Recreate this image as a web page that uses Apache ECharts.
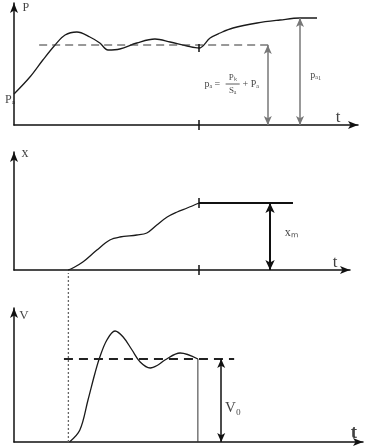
<!DOCTYPE html>
<html><head><meta charset="utf-8">
<script src="https://cdn.jsdelivr.net/npm/echarts@6/dist/echarts.min.js"></script>
<style>html,body{margin:0;padding:0;background:#fff}#c{width:366px;height:448px}</style>
</head><body><div id="c"></div>
<script>
// ---- Panel 1: pressure P(t)
const pressureT = [0, 0.43, 0.78, 1.11, 1.38, 1.70, 2.05, 2.32, 2.54, 2.86, 3.32, 3.81, 4.22, 4.68, 5.0, 5.30, 5.57, 5.92, 6.57, 7.19, 7.73, 8.19];
const pressureP = [3.1, 4.8, 6.5, 8.0, 9.0, 9.3, 8.8, 8.2, 7.5, 7.6, 8.2, 8.6, 8.3, 7.9, 7.7, 8.7, 9.2, 9.7, 10.2, 10.5, 10.7, 10.7];
const pressureSetLevel = 8.0;
const pressureSetRange = [0.68, 6.92];
const pressureFinal = 10.7;
const pressureArrowT = [6.86, 7.73];

// ---- Panel 2: displacement x(t)
const dispT = [1.46, 1.59, 1.86, 2.24, 2.59, 2.86, 3.32, 3.59, 3.86, 4.14, 4.41, 4.68, 5.0];
const dispX = [0, 0.2, 0.8, 2.0, 3.0, 3.3, 3.5, 3.7, 4.5, 5.3, 5.8, 6.2, 6.7];
const dispHoldRange = [5.0, 7.54];
const dispMax = 6.7;
const dispArrowT = 6.92;

// ---- Panel 3: velocity V(t)
const velT = [1.5, 1.78, 2.0, 2.19, 2.32, 2.51, 2.73, 2.95, 3.19, 3.41, 3.68, 3.89, 4.08, 4.49, 4.97];
const velV = [0, 1.2, 4.2, 6.9, 8.5, 10.2, 11.1, 10.5, 9.2, 8.0, 7.4, 7.7, 8.2, 8.9, 8.3];
const velSteady = 8.3;
const velSteadyRange = [1.35, 5.95];
const velArrowT = 5.6;
const startT = 1.47;
const tickT = 5;

const zip = (a, b) => a.map((v, i) => [v, b[i]]);
const FONT = 'Liberation Serif';

function axisPair(gi, xmax, ymax) {
  const line = {show: true, onZero: false, symbol: ['none', 'arrow'], symbolSize: [6, 10], lineStyle: {color: '#111', width: 1.5}};
  return {
    x: {type: 'value', gridIndex: gi, min: 0, max: xmax, axisLine: line, axisTick: {show: false}, axisLabel: {show: false}, splitLine: {show: false}},
    y: {type: 'value', gridIndex: gi, min: 0, max: ymax, axisLine: line, axisTick: {show: false}, axisLabel: {show: false}, splitLine: {show: false}}
  };
}
const a1 = axisPair(0, 344 / 37, 12.2);
const a2 = axisPair(1, 336 / 37, 11.8);
const a3 = axisPair(2, 349 / 37, 13.4);

function seg(idx, pts, style, extra) {
  return Object.assign({type: 'line', xAxisIndex: idx, yAxisIndex: idx, data: pts, symbol: 'none', clip: false, silent: true, lineStyle: style}, extra || {});
}
function labels(idx, items) {
  return {
    type: 'scatter', xAxisIndex: idx, yAxisIndex: idx, clip: false, silent: true, symbolSize: 1,
    itemStyle: {color: 'rgba(0,0,0,0)'},
    data: items.map(it => ({value: [it[0], it[1]], label: {show: true, position: 'inside', formatter: it[2], fontFamily: FONT, fontSize: it[3], fontWeight: it[4] || 'normal', color: '#111'}}))
  };
}
function arrows(color, width, size, list) {
  return {silent: true, symbol: ['arrow', 'arrow'], symbolSize: size, label: {show: false},
    lineStyle: {color: color, width: width, type: 'solid'},
    data: list.map(l => [{coord: [l[0], l[1]]}, {coord: [l[0], l[2]]}])};
}

const option = {
  animation: false,
  backgroundColor: '#fff',
  grid: [
    {left: 14, right: 8, top: 3, height: 122},
    {left: 14, right: 16, top: 152, height: 118},
    {left: 14, right: 3, top: 308, height: 134}
  ],
  xAxis: [a1.x, a2.x, a3.x],
  yAxis: [a1.y, a2.y, a3.y],
  series: [
    // panel 1
    seg(0, zip(pressureT, pressureP), {color: '#1a1a1a', width: 1.3}, {smooth: 0.35}),
    seg(0, [[pressureSetRange[0], pressureSetLevel], [pressureSetRange[1], pressureSetLevel]], {color: '#333', width: 1, type: [8, 5]},
      {markLine: arrows('#777', 1.5, [6, 9], [[pressureArrowT[0], pressureSetLevel, 0], [pressureArrowT[1], pressureFinal, 0]])}),
    seg(0, [[tickT, -0.5], [tickT, 0.5]], {color: '#111', width: 1.5}),
    seg(0, [[tickT, 7.3], [tickT, 8.1]], {color: '#111', width: 1.5}),
    seg(0, [[5.72, 4.1], [6.1, 4.1]], {color: '#333', width: 0.8}),
    labels(0, [
      [0.32, 11.7, 'P', 12], [8.76, 0.7, 't', 17], [-0.11, 2.5, 'Pₐ', 12],
      [5.36, 4.1, 'pₐ =', 10], [5.91, 4.75, 'Pₖ', 9], [5.91, 3.45, 'Sₐ', 9], [6.4, 4.1, '+ Pₐ', 10],
      [8.16, 5.0, 'pₐ₁', 10]
    ]),
    // panel 2
    seg(1, zip(dispT, dispX), {color: '#1a1a1a', width: 1.3}, {smooth: 0.35}),
    seg(1, [[dispHoldRange[0], dispMax], [dispHoldRange[1], dispMax]], {color: '#111', width: 1.8},
      {markLine: arrows('#111', 2, [7, 10], [[dispArrowT, dispMax, 0]])}),
    seg(1, [[tickT, -0.5], [tickT, 0.5]], {color: '#111', width: 1.5}),
    seg(1, [[tickT, 6.2], [tickT, 7.2]], {color: '#111', width: 1.5}),
    labels(1, [[0.3, 11.7, 'x', 14], [8.68, 0.7, 't', 17], [7.49, 3.7, 'xₘ', 12]]),
    // panel 3
    seg(2, zip(velT, velV), {color: '#1a1a1a', width: 1.3}, {smooth: 0.35}),
    seg(2, [[velSteadyRange[0], velSteady], [velSteadyRange[1], velSteady]], {color: '#222', width: 2, type: [9, 6]},
      {markLine: arrows('#111', 1.5, [6, 9], [[velArrowT, velSteady, 0]])}),
    seg(2, [[velT[velT.length - 1], velSteady], [velT[velT.length - 1], 0]], {color: '#333', width: 1}),
    seg(2, [[startT, 0], [startT, 16.9]], {color: '#666', width: 1.3, type: [2, 2]}),
    labels(2, [[0.27, 12.6, 'V', 13], [9.19, 0.9, 't', 19, 'bold'], [5.92, 3.4, 'V₀', 15]])
  ]
};
echarts.init(document.getElementById('c'), null, {renderer: 'canvas'}).setOption(option);
</script>
</body></html>
